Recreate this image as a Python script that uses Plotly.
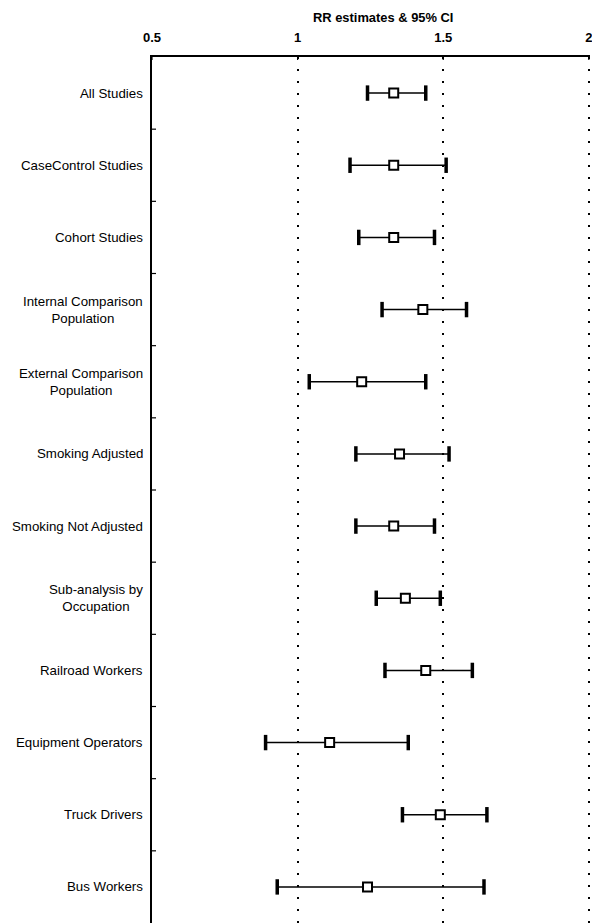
import plotly.graph_objects as go

# Relative risk estimates with 95% confidence intervals, one row per analysis
categories = [
    "All Studies",
    "CaseControl Studies",
    "Cohort Studies",
    "Internal Comparison<br>Population",
    "External Comparison<br>Population",
    "Smoking Adjusted",
    "Smoking Not Adjusted",
    "Sub-analysis by<br>Occupation",
    "Railroad Workers",
    "Equipment Operators",
    "Truck Drivers",
    "Bus Workers",
]
rr = [1.33, 1.33, 1.33, 1.43, 1.22, 1.35, 1.33, 1.37, 1.44, 1.11, 1.49, 1.24]
ci_low = [1.24, 1.18, 1.21, 1.29, 1.04, 1.20, 1.20, 1.27, 1.30, 0.89, 1.36, 0.93]
ci_high = [1.44, 1.51, 1.47, 1.58, 1.44, 1.52, 1.47, 1.49, 1.60, 1.38, 1.65, 1.64]
x_ticks = [0.5, 1, 1.5, 2]
x_tick_text = ["0.5", "1", "1.5", "2"]

n = len(categories)
rows = [i + 0.5 for i in range(n)]

FONT = "Liberation Sans, Arial, sans-serif"

fig = go.Figure()

# CI end caps (heavy vertical bars)
fig.add_trace(go.Scatter(
    x=ci_low + ci_high,
    y=rows + rows,
    mode="markers",
    marker=dict(symbol="line-ns", size=11, color="black",
                line=dict(color="black", width=3.5)),
    hoverinfo="skip",
    showlegend=False,
))

# Point estimates with CI whiskers
fig.add_trace(go.Scatter(
    x=rr,
    y=rows,
    mode="markers",
    marker=dict(symbol="square", size=9, color="white",
                line=dict(color="black", width=2)),
    error_x=dict(
        type="data", symmetric=False,
        array=[h - p for h, p in zip(ci_high, rr)],
        arrayminus=[p - l for p, l in zip(rr, ci_low)],
        color="black", thickness=1.5, width=0,
    ),
    showlegend=False,
))

shapes = []
# Crossing ticks on the top axis
for v in x_ticks:
    shapes.append(dict(type="line", xref="x", yref="y", x0=v, x1=v,
                       ysizemode="pixel", yanchor=0, y0=-3, y1=3,
                       line=dict(color="black", width=1.2)))
# Crossing ticks between rows on the left axis
for k in range(1, n):
    shapes.append(dict(type="line", xref="x", yref="y", y0=k, y1=k,
                       xsizemode="pixel", xanchor=0.5, x0=-4, x1=4,
                       line=dict(color="black", width=1.2)))

annotations = []
for label, yv in zip(categories, rows):
    annotations.append(dict(
        text=label, xref="paper", yref="y", x=0, y=yv,
        xanchor="right", yanchor="middle", align="center",
        xshift=-7, showarrow=False,
        font=dict(family=FONT, size=13.3, color="black"),
    ))
annotations.append(dict(
    text="<b>RR estimates & 95% CI</b>", xref="paper", yref="paper",
    x=0.527, y=1.0452, xanchor="center", yanchor="middle", showarrow=False,
    font=dict(family=FONT, size=12.9, color="black"),
))

fig.update_layout(
    width=592, height=923,
    margin=dict(l=152, r=0, t=57, b=0),
    paper_bgcolor="white", plot_bgcolor="white",
    shapes=shapes, annotations=annotations,
    xaxis=dict(
        side="top", range=[0.5, 2.004],
        tickvals=x_ticks, ticktext=x_tick_text,
        tickfont=dict(family=FONT, size=13, color="black", weight="bold"),
        ticks="", ticklabelstandoff=8, ticklabeloverflow="allow",
        showline=True, linecolor="black", linewidth=2,
        showgrid=True, gridcolor="black", gridwidth=1.6, griddash="2px,10px",
        zeroline=False,
    ),
    yaxis=dict(
        range=[n, 0], showticklabels=False, ticks="",
        showline=True, linecolor="black", linewidth=2,
        showgrid=False, zeroline=False,
    ),
)

fig.write_html("out.html")
